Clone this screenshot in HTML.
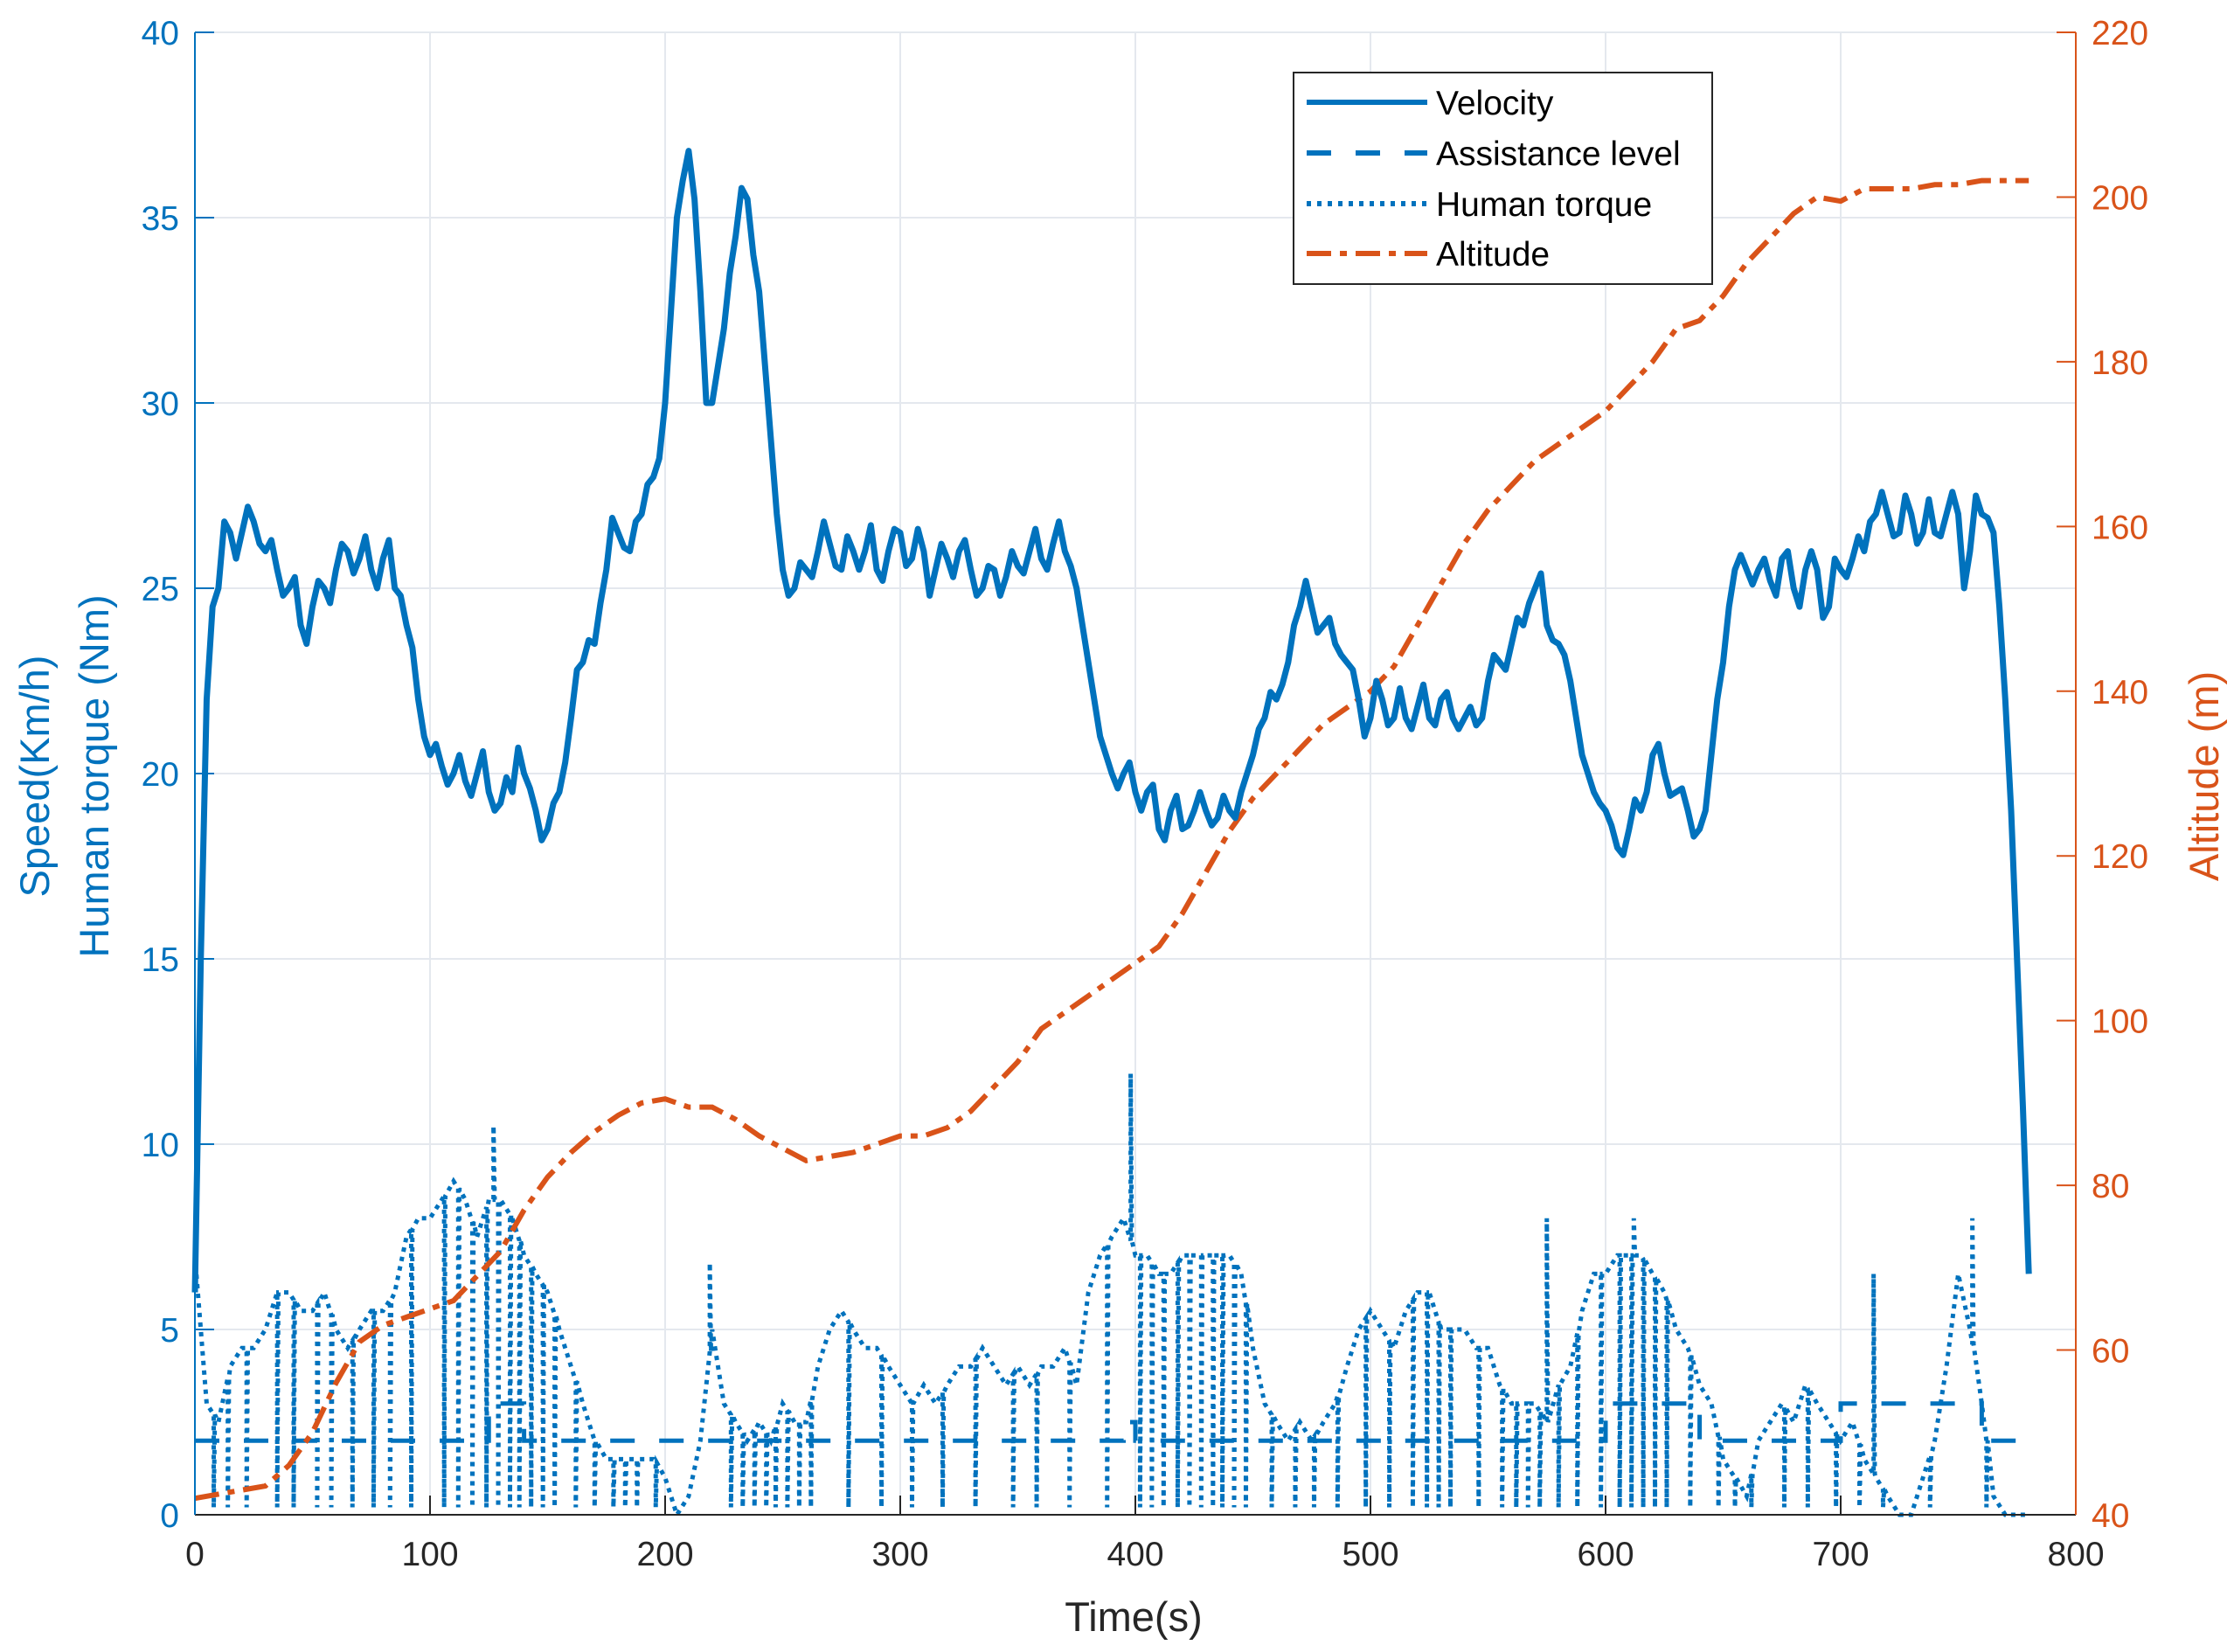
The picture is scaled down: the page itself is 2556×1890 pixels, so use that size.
<!DOCTYPE html>
<html><head><meta charset="utf-8"><style>
html,body{margin:0;padding:0;background:#fff;}
svg{display:block;font-family:"Liberation Sans",sans-serif;}
</style></head><body>
<svg id="chart" width="2556" height="1890" viewBox="0 0 2556 1890">
<g id="grid"></g>
<g id="series"></g>
<g id="axes"></g>
<text x="1297" y="1866" text-anchor="middle" font-size="47" fill="#262626">Time(s)</text>
<text transform="translate(56,888) rotate(-90)" text-anchor="middle" font-size="47" fill="#0072BD">Speed(Km/h)</text>
<text transform="translate(124,888) rotate(-90)" text-anchor="middle" font-size="47" fill="#0072BD">Human torque (Nm)</text>
<text transform="translate(2538,888) rotate(-90)" text-anchor="middle" font-size="47" fill="#D95319">Altitude (m)</text>
<g>
<rect x="1480" y="83" width="479" height="242" fill="#fff" stroke="#262626" stroke-width="2"/>
<g><line x1="1495" y1="117" x2="1633" y2="117" stroke="#0072BD" stroke-width="6"/><text x="1643" y="131" font-size="39" fill="#000">Velocity</text></g>
<g><line x1="1495" y1="175" x2="1633" y2="175" stroke="#0072BD" stroke-width="6" stroke-dasharray="28,28"/><text x="1643" y="189" font-size="39" fill="#000">Assistance level</text></g>
<g><line x1="1495" y1="233" x2="1633" y2="233" stroke="#0072BD" stroke-width="6" stroke-dasharray="5,7"/><text x="1643" y="247" font-size="39" fill="#000">Human torque</text></g>
<g><line x1="1495" y1="290" x2="1633" y2="290" stroke="#D95319" stroke-width="6" stroke-dasharray="28,10,8,10"/><text x="1643" y="304" font-size="39" fill="#000">Altitude</text></g>
</g>
</svg>
<script>
const xTicks=[0,100,200,300,400,500,600,700,800];
const leftTicks=[0,5,10,15,20,25,30,35,40];
const rightTicks=[40,60,80,100,120,140,160,180,200,220];
const velocity=[6,22,25,26.5,26.5,26.8,26,25.5,25,24,24.5,25,25.5,26,25.8,25.5,25.8,25,24,22,20.5,20.2,20,19.8,20,19.5,19.2,19.5,20,19,18.5,19.5,21.5,23,23.5,25.5,26.5,26,27,28,30,35,36.8,33,30,32,34.5,35.5,33,29,25.5,25,25.5,26,26.2,25.5,26,26,25.5,26,26.5,25.8,26,25.5,25.8,26,25.5,25,25.5,25.3,25.6,26,25.8,26.2,26,25,23,21,20,20,19.5,19.5,18.5,19,18.5,19,19,18.8,19,19.5,20.5,21.5,22,23,24.5,24.5,24,23.5,23,22,21.5,22,21.5,21.5,21.8,21.5,22,21.5,21.5,21.3,22.5,23,23.5,24,25,24,23.5,22.5,20.5,19.5,19,18,18.5,19,20.5,20,19.5,19,18.5,20.5,23,25.5,25.5,25.5,25.2,25.8,25,25.5,25.5,24.5,25.5,25.8,26,27,27,26.5,27,26.5,26.5,27,27,26,27,26.5,22,15,6.5];
const velocityMid=[15,24.5,26.8,25.8,27.2,26.2,26.3,24.8,25.3,23.5,25.2,24.6,26.2,25.4,26.4,25,26.3,24.8,23.4,21,20.8,19.7,20.5,19.4,20.6,19,19.9,20.7,19.6,18.2,19.2,20.3,22.8,23.6,24.6,26.9,26.1,26.8,27.8,28.5,32.5,36,35.5,30,31,33.5,35.8,34,31,27,24.8,25.7,25.3,26.8,25.6,26.4,25.5,26.7,25.2,26.6,25.6,26.6,24.8,26.2,25.3,26.3,24.8,25.6,24.8,26,25.4,26.6,25.5,26.8,25.6,24,22,20.5,19.6,20.3,19,19.7,18.2,19.4,18.6,19.5,18.6,19.4,18.8,20,21.2,22.2,22.4,24,25.2,23.8,24.2,23.2,22.8,21,22.5,21.3,22.3,21.2,22.4,21.3,22.2,21.2,21.8,21.5,23.2,22.8,24.2,24.6,25.4,23.6,23.2,21.5,20,19.2,18.6,17.8,19.3,19.5,20.8,19.4,19.6,18.3,19,22,24.5,25.9,25.1,25.8,24.8,26,24.5,26,24.2,25.8,25.3,26.4,26.8,27.6,26.4,27.5,26.2,27.4,26.4,27.6,25,27.5,26.9,24.5,19,11];
const torque=[7,3,2.5,4,4.5,4.5,5,6,6,5.5,5.5,6,5,4.5,5,5.5,5.5,6,7.5,8,8,8.5,9,8.5,7.5,8.5,8.5,8,7,6.5,6,5,4,3,2,1.5,1.5,1.5,1.5,1.5,1,0,0.5,2,5,3,2.5,2,2.5,2,3,2.5,2.5,4,5,5.5,5,4.5,4.5,4,3.5,3,3.5,3,3.5,4,4,4.5,4,3.5,4,3.5,4,4,4.5,3.5,6,7,7.5,8,7,7,6.5,6.5,7,7,7,7,7,6.5,4.5,3,2.5,2,2.5,2,2.5,3,4,5,5.5,5,4.5,5.5,6,6,5,5,5,4.5,4.5,3.5,3,3,3,2.5,3.5,4,5.5,6.5,6.5,7,7,7,6.5,6,5,4.5,3.5,3,1.5,1,0.5,2,2.5,3,2.5,3.5,3,2.5,2,2.5,1.5,1,0.5,0,0,1,2,4,6.5,5,3,0.5,0,0,0];
const torqueDropTimes=[8,14,22,35,42,52,58,67,76,83,92,106,112,118,124,129,134,138,143,148,153,162,170,178,183,188,196,228,233,238,243,247,252,257,262,278,292,305,318,332,348,358,372,388,402,407,412,418,423,428,433,437,442,447,458,468,476,486,498,508,518,524,529,534,546,556,562,567,572,580,588,598,606,611,616,621,626,636,648,655,662,676,686,698,708,718,738,762];
const torqueSpikeTimes=[127,219,398,575,612,714,756];
const torqueSpikeValues=[10.5,6.8,11.9,8,8,6.5,8];
const assistStart=[0,125,140,395,400,600,640,700,760];
const assistLevel=[2,3,2,2.5,2,3,2,3,2];
const altTimes=[0,10,20,30,40,50,60,70,80,90,100,110,120,130,140,150,160,170,180,190,200,210,220,230,240,250,260,270,280,290,300,310,320,330,340,350,360,370,380,390,400,410,420,430,440,450,460,470,480,490,500,510,520,530,540,550,560,570,580,590,600,610,620,630,640,650,660,670,680,690,700,710,720,730,740,750,760,770,780];
const altitude=[42,42.5,43,43.5,46,50,56,61,63,64,65,66,69,72,77,81,84,86.5,88.5,90,90.5,89.5,89.5,88,86,84.5,83,83.5,84,85,86,86,87,89,92,95,99,101,103,105,107,109,113,118,123,127,130,133,136,138,140,143,148,153,158,162,165,168,170,172,174,177,180,184,185,188,192,195,198,200,199.5,201,201,201,201.5,201.5,202,202,202];
const X0=223,X1=2375,Y0=1733,Y1=37;
const sx=t=>X0+t/800*(X1-X0);
const sy=v=>Y0-v/40*(Y0-Y1);
const sa=a=>Y0-(a-40)/180*(Y0-Y1);
const NS='http://www.w3.org/2000/svg';
function mk(tag,attrs,parent){const e=document.createElementNS(NS,tag);for(const k in attrs)e.setAttribute(k,attrs[k]);parent.appendChild(e);return e;}
const grid=document.getElementById('grid'),axes=document.getElementById('axes'),series=document.getElementById('series');
xTicks.forEach(t=>{
  const g=mk('line',{x1:sx(t),x2:sx(t),y1:Y1,y2:Y0,stroke:'#e4e8ee','stroke-width':2},grid);
  
  
  const tk=mk('line',{x1:sx(t),x2:sx(t),y1:Y0,y2:Y0-22,stroke:'#262626','stroke-width':2},axes);
  
  
  const l=mk('text',{x:sx(t),y:Y0+58,'text-anchor':'middle','font-size':39,fill:'#262626'},axes);
  l.textContent=t;
  
  
});
leftTicks.forEach(v=>{
  const g=mk('line',{x1:X0,x2:X1,y1:sy(v),y2:sy(v),stroke:'#e4e8ee','stroke-width':2},grid);
  
  
  const tk=mk('line',{x1:X0,x2:X0+22,y1:sy(v),y2:sy(v),stroke:'#0072BD','stroke-width':2},axes);
  
  
  const l=mk('text',{x:X0-18,y:sy(v)+14,'text-anchor':'end','font-size':39,fill:'#0072BD'},axes);
  l.textContent=v;
  
  
});
rightTicks.forEach(a=>{
  const tk=mk('line',{x1:X1,x2:X1-22,y1:sa(a),y2:sa(a),stroke:'#D95319','stroke-width':2},axes);
  
  
  const l=mk('text',{x:X1+18,y:sa(a)+14,'text-anchor':'start','font-size':39,fill:'#D95319'},axes);
  l.textContent=a;
  
  
});
const ax=mk('line',{x1:X0,x2:X1,y1:Y0,y2:Y0,stroke:'#262626','stroke-width':2},axes);


const al=mk('line',{x1:X0,x2:X0,y1:Y1,y2:Y0,stroke:'#0072BD','stroke-width':2},axes);


const ar=mk('line',{x1:X1,x2:X1,y1:Y1,y2:Y0,stroke:'#D95319','stroke-width':2},axes);


const at=mk('line',{x1:X0,x2:X1,y1:Y1,y2:Y1,stroke:'#e4e8ee','stroke-width':2},grid);


// torque
let tp=[];
const tpts=[];torque.forEach((v,i)=>tpts.push([i*5,v]));
torqueDropTimes.forEach(t=>tpts.push([t,'drop']));
torqueSpikeTimes.forEach((t,i)=>tpts.push([t,'spike',torqueSpikeValues[i]]));
tpts.sort((a,b)=>a[0]-b[0]);
function torqueAt(t){const i=Math.min(Math.floor(t/5),torque.length-2);const f=(t-i*5)/5;return torque[i]*(1-f)+torque[i+1]*f;}
tpts.forEach(p=>{
  if(p[1]==='drop'){const v=torqueAt(p[0]);tp.push([sx(p[0]),sy(v)],[sx(p[0]),sy(0.2)],[sx(p[0]+0.5),sy(v)]);}
  else if(p[1]==='spike'){const v=torqueAt(p[0]);tp.push([sx(p[0]),sy(v)],[sx(p[0]),sy(p[2])],[sx(p[0]+0.5),sy(v)]);}
  else tp.push([sx(p[0]),sy(p[1])]);
});
const tl=mk('polyline',{points:tp.map(p=>p.join(',')).join(' '),fill:'none',stroke:'#0072BD','stroke-width':5,'stroke-dasharray':'5,6'},series);


// assistance
let ap=[];assistStart.forEach((t,i)=>{const e=i+1<assistStart.length?assistStart[i+1]:780;ap.push([sx(t),sy(assistLevel[i])],[sx(e),sy(assistLevel[i])]);});
const asl=mk('polyline',{points:ap.map(p=>p.join(',')).join(' '),fill:'none',stroke:'#0072BD','stroke-width':5,'stroke-dasharray':'28,28'},series);


// altitude
const altl=mk('polyline',{points:altTimes.map((t,i)=>sx(t)+','+sa(altitude[i])).join(' '),fill:'none',stroke:'#D95319','stroke-width':6,'stroke-dasharray':'28,10,8,10'},series);


// velocity
const vp=[];
velocity.forEach((v,i)=>{vp.push(sx(i*5)+','+sy(v));if(i<velocityMid.length)vp.push(sx(i*5+2.5)+','+sy(velocityMid[i]));});
const vl=mk('polyline',{points:vp.join(' '),fill:'none',stroke:'#0072BD','stroke-width':7,'stroke-linejoin':'round'},series);


</script>
</body></html>
